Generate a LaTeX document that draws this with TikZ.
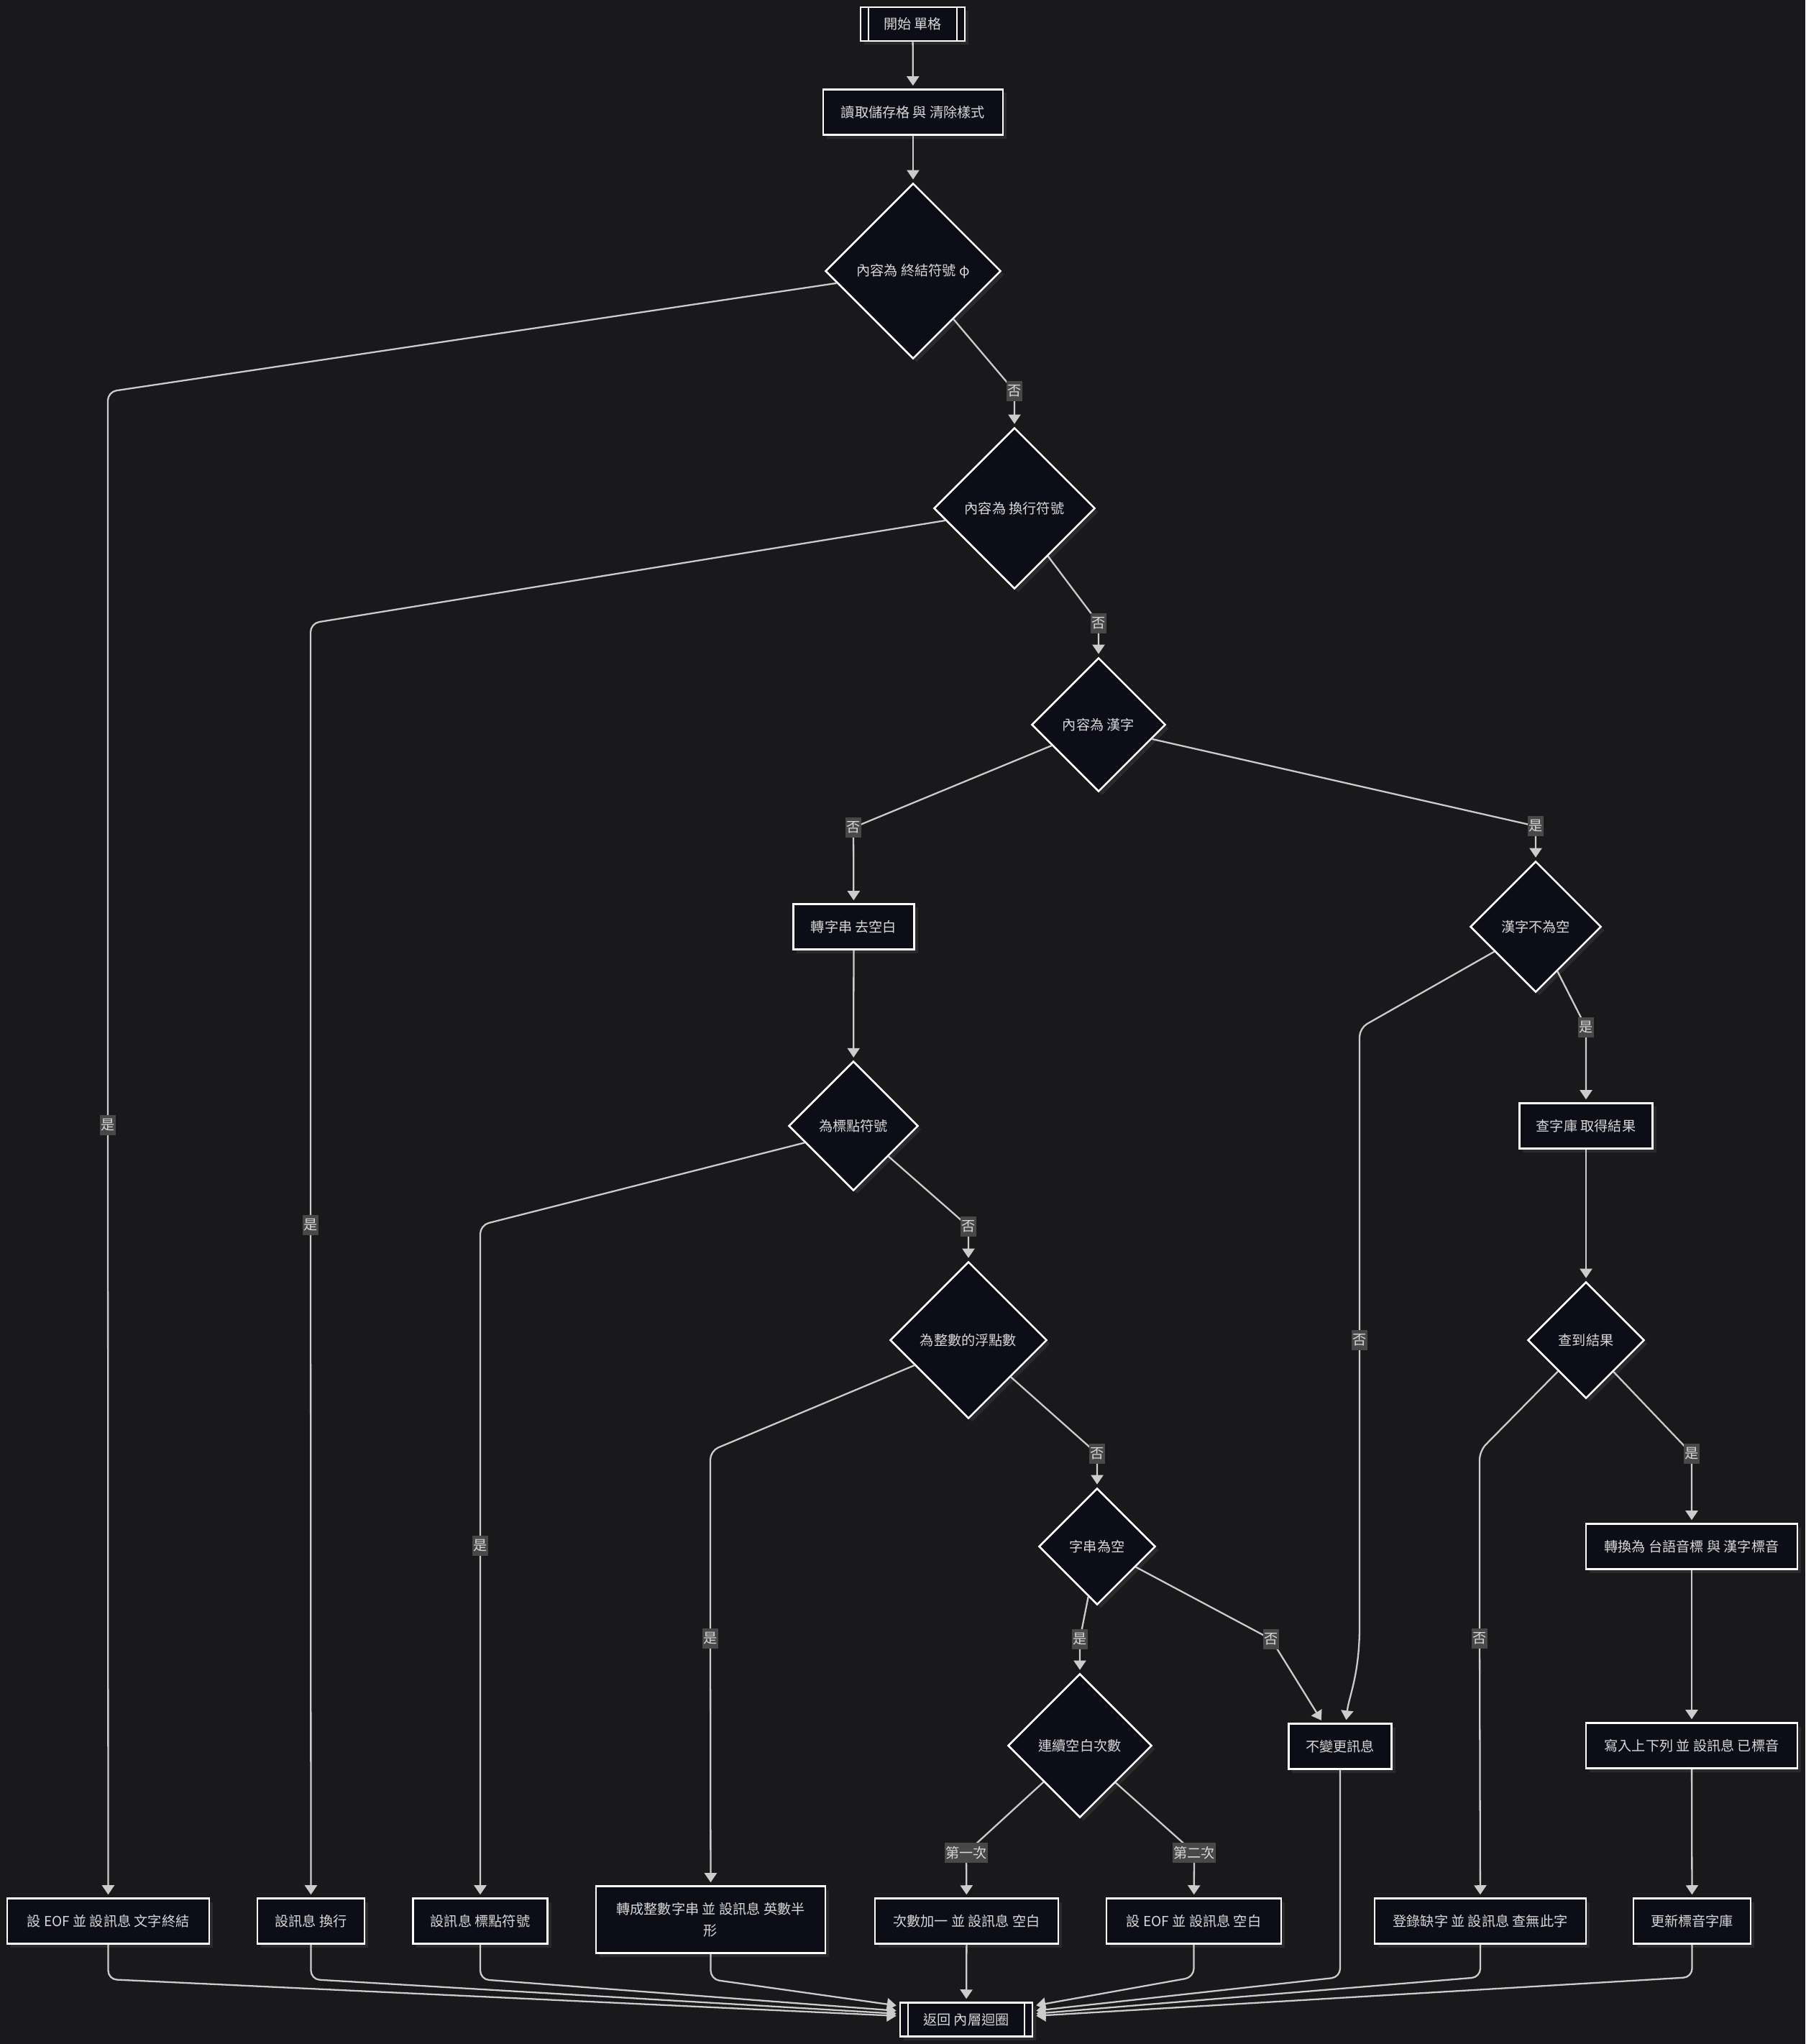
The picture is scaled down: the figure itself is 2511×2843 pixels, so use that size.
\documentclass[tikz,border=0pt]{standalone}
\usepackage{fontspec}
\setmainfont{Noto Sans CJK TC}
\usetikzlibrary{shapes.geometric,arrows.meta,shadows,calc}
\definecolor{bg}{HTML}{19191B}
\definecolor{nodefill}{HTML}{0C0D17}
\definecolor{shadowc}{HTML}{2A2A2C}
\definecolor{edgec}{HTML}{CCCCCC}
\definecolor{txt}{HTML}{D8D8D8}
\definecolor{labbg}{HTML}{484848}
\begin{document}
\begin{tikzpicture}[x=0.01cm,y=-0.01cm,
  base/.style={draw=white, line width=0.72pt, fill=nodefill, text=txt,
    font=\fontsize{5.45pt}{6.8pt}\selectfont,
    drop shadow={shadow xshift=0.05cm, shadow yshift=-0.05cm, fill=shadowc, opacity=1}},
  box/.style={base, rectangle, inner sep=0pt, minimum height=0.63cm},
  dec/.style={base, diamond, aspect=1, inner sep=0pt},
  subr/.style={box, minimum height=0.47cm,
    path picture={\draw[white, line width=0.72pt]
      ([xshift=0.11cm]path picture bounding box.north west) -- ([xshift=0.11cm]path picture bounding box.south west)
      ([xshift=-0.11cm]path picture bounding box.north east) -- ([xshift=-0.11cm]path picture bounding box.south east);}},
  lab/.style={sharp corners, fill=labbg, text=txt, inner xsep=0.3pt, inner ysep=0pt,
    minimum height=0.28cm, font=\fontsize{5.45pt}{6.8pt}\selectfont},
  conn/.style={draw=edgec, line width=0.65pt, rounded corners=0.12cm,
    -{Triangle[length=0.13cm,width=0.17cm]}, shorten >=0.04cm},
]
\fill[bg] (0,0) rectangle (2511,2843);
\useasboundingbox (0,0) rectangle (2511,2843);

% nodes
\node[subr, minimum width=1.45cm] (start) at (1269.5,33.5) {開始 單格};
\node[box, minimum width=2.50cm] (read) at (1270,156) {讀取儲存格 與 清除樣式};
\node[dec, minimum width=2.44cm, minimum height=2.44cm] (d1) at (1270,377) {內容為 終結符號 φ};
\node[dec, minimum width=2.24cm, minimum height=2.24cm] (d2) at (1411,707) {內容為 換行符號};
\node[dec, minimum width=1.86cm, minimum height=1.86cm] (d3) at (1528,1008) {內容為 漢字};
\node[box, minimum width=1.68cm] (strip) at (1187.5,1289) {轉字串 去空白};
\node[dec, minimum width=1.82cm, minimum height=1.82cm] (hz) at (2136,1289) {漢字不為空};
\node[dec, minimum width=1.80cm, minimum height=1.80cm] (punct) at (1187,1566) {為標點符號};
\node[box, minimum width=1.85cm] (lookup) at (2206,1566) {查字庫 取得結果};
\node[dec, minimum width=2.18cm, minimum height=2.18cm] (intf) at (1347,1864) {為整數的浮點數};
\node[dec, minimum width=1.62cm, minimum height=1.62cm] (found) at (2206,1864) {查到結果};
\node[dec, minimum width=1.62cm, minimum height=1.62cm] (empty) at (1526,2151) {字串為空};
\node[box, minimum width=2.94cm] (conv) at (2353,2151) {轉換為 台語音標 與 漢字標音};
\node[dec, minimum width=2.00cm, minimum height=2.00cm] (spaces) at (1502,2428) {連續空白次數};
\node[box, minimum width=1.43cm] (nochg) at (1864,2429) {不變更訊息};
\node[box, minimum width=2.94cm] (write) at (2353,2428) {寫入上下列 並 設訊息 已標音};

\node[box, minimum width=2.81cm] (e1) at (150.5,2672) {設 EOF 並 設訊息 文字終結};
\node[box, minimum width=1.49cm] (e2) at (432.5,2672) {設訊息 換行};
\node[box, minimum width=1.87cm] (e3) at (668,2672) {設訊息 標點符號};
\node[box, minimum width=3.19cm, minimum height=0.93cm, align=center,
  font=\fontsize{5.45pt}{8.5pt}\selectfont] (e4) at (988.5,2670) {轉成整數字串 並 設訊息 英數半\\形};
\node[box, minimum width=2.55cm] (e5) at (1344.5,2672) {次數加一 並 設訊息 空白};
\node[box, minimum width=2.43cm] (e6) at (1660.5,2672) {設 EOF 並 設訊息 空白};
\node[box, minimum width=2.94cm] (e7) at (2059,2672) {登錄缺字 並 設訊息 查無此字};
\node[box, minimum width=1.63cm] (e8) at (2353.5,2672) {更新標音字庫};
\node[subr, minimum width=1.84cm] (ret) at (1344,2809) {返回 內層迴圈};

% connectors
\draw[conn] (start) -- (read);
\draw[conn] (read) -- (d1);
\draw[conn] (d1.189) -- (150,545) -- (150,1565) node[lab]{是} -- (e1);
\draw[conn] (d1.310) -- (1411,544) node[lab]{否} -- (d2);
\draw[conn] (d2.190) -- (432,867) -- (432,1704) node[lab]{是} -- (e2);
\draw[conn] (d2.305.6) -- (1528,867) node[lab]{否} -- (d3);
\draw[conn] (d3.204.4) -- (1187,1151) node[lab]{否} -- (strip);
\draw[conn] (d3.345) -- (2136,1149) node[lab]{是} -- (hz);
\draw[conn] (strip) -- (punct);
\draw[conn] (hz.211) -- (1891,1430) -- (1891,1864) node[lab]{否} -- (1891,2250)
  .. controls (1891,2330) and (1876,2360) .. ($(nochg.north)+(8,0)$);
\draw[conn] (hz.296) -- (2206,1429) node[lab]{是} -- (lookup);
\draw[conn] (punct.199) -- (668,1704) -- (668,2150) node[lab]{是} -- (e3);
\draw[conn] (punct.319) -- (1347,1706) node[lab]{否} -- (intf);
\draw[conn] (lookup) -- (found);
\draw[conn] (intf.205) -- (988,2018) -- (988,2279) node[lab]{是} -- (e4);
\draw[conn] (intf.319) -- (1526,2022) node[lab]{否} -- (empty);
\draw[conn] (found.228.5) -- (2058,2018) -- (2058,2279) node[lab]{否} -- (e7);
\draw[conn] (found.311.5) -- (2353,2022) node[lab]{是} -- (conv);
\draw[conn] (empty.260) -- (1502,2280) node[lab]{是} -- (spaces);
\draw[conn] (empty.332) -- (1768,2280) node[lab]{否} -- ($(nochg.north)+(-24,0)$);
\draw[conn] (conv) -- (write);
\draw[conn] (spaces.225.6) -- (1344,2577) node[lab]{第一次} -- (e5);
\draw[conn] (spaces.314.4) -- (1661,2577) node[lab]{第二次} -- (e6);
\draw[conn] (write) -- (e8);

% to return
\draw[conn] (e1.south) -- (150.5,2753) -- ($(ret.west)+(0,-5)$);
\draw[conn] (e2.south) -- (432.5,2753) -- ($(ret.west)+(0,-8)$);
\draw[conn] (e3.south) -- (668,2753) -- ($(ret.west)+(0,-12)$);
\draw[conn] (e4.south) -- (988.5,2753) -- ($(ret.west)+(0,-19)$);
\draw[conn] (e5) -- (ret);
\draw[conn] (e6.south) -- (1660.5,2750) -- ($(ret.east)+(0,-19)$);
\draw[conn] (nochg.south) -- (1864,2750) -- ($(ret.east)+(0,-12)$);
\draw[conn] (e7.south) -- (2059,2750) -- ($(ret.east)+(0,-8)$);
\draw[conn] (e8.south) -- (2353.5,2750) -- ($(ret.east)+(0,-5)$);
\end{tikzpicture}
\end{document}
